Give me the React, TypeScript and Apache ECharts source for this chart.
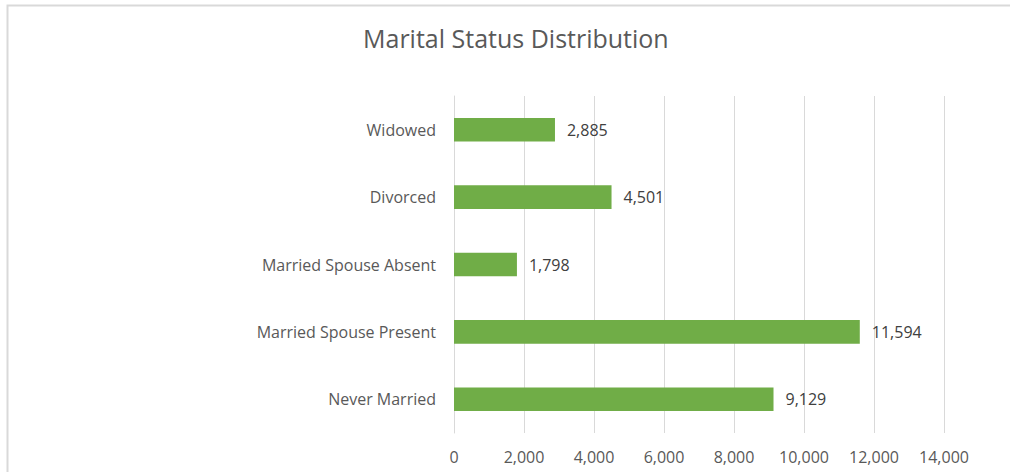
import React, { useEffect, useRef } from "react";
import * as echarts from "echarts";

const categories = ["Never Married", "Married Spouse Present", "Married Spouse Absent", "Divorced", "Widowed"];
const values = [9129, 11594, 1798, 4501, 2885];
const xTicks = [0, 2000, 4000, 6000, 8000, 10000, 12000, 14000];

const FONT = "'Open Sans', 'Noto Sans', sans-serif";

export default function App() {
  const ref = useRef<HTMLDivElement>(null);
  useEffect(() => {
    if (!ref.current) return;
    const chart = echarts.init(ref.current, undefined, { renderer: "svg" });
    chart.setOption({
      animation: false,
      backgroundColor: "#ffffff",
      textStyle: { fontFamily: FONT },
      title: {
        text: "Marital Status Distribution",
        left: 358,
        top: 20,
        textStyle: { fontSize: 25, fontWeight: "normal", color: "#595959", fontFamily: FONT },
      },
      graphic: [
        {
          type: "rect",
          shape: { x: 7.5, y: 5.5, width: 1020, height: 490 },
          style: { fill: "none", stroke: "#d9d9d9", lineWidth: 2 },
          silent: true,
        },
      ],
      grid: { left: 454, right: 66, top: 96, bottom: 39, containLabel: false },
      xAxis: {
        type: "value",
        min: xTicks[0],
        max: xTicks[xTicks.length - 1],
        interval: 2000,
        axisLine: { show: false },
        axisTick: { show: false },
        splitLine: { show: true, lineStyle: { color: "#d9d9d9", width: 1 } },
        axisLabel: {
          color: "#595959",
          fontSize: 16,
          fontFamily: FONT,
          margin: 16,
          formatter: (v: number) => v.toLocaleString("en-US"),
        },
      },
      yAxis: {
        type: "category",
        data: categories,
        axisLine: { show: true, lineStyle: { color: "#d9d9d9", width: 1 } },
        axisTick: { show: false },
        axisLabel: { color: "#595959", fontSize: 16, fontFamily: FONT, margin: 18 },
      },
      series: [
        {
          type: "bar",
          data: values,
          barWidth: "35%",
          itemStyle: { color: "#70ad47" },
          label: {
            show: true,
            position: "right",
            distance: 12,
            color: "#404040",
            fontSize: 16,
            fontFamily: FONT,
            formatter: (p: any) => Number(p.value).toLocaleString("en-US"),
          },
        },
      ],
    });
    return () => chart.dispose();
  }, []);
  return (
    <div
      ref={ref}
      style={{ position: "fixed", left: 0, top: 0, width: 1010, height: 472 }}
    />
  );
}
